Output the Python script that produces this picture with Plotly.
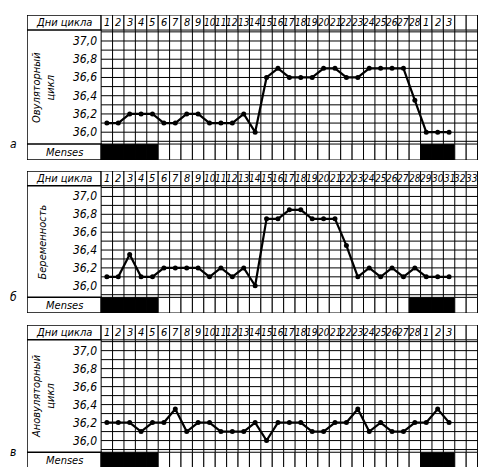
import plotly.graph_objects as go

# --- data -------------------------------------------------------------------
HEADER_A = [str(d) for d in range(1, 29)] + ["1", "2", "3", "", "", ""]
HEADER_B = [str(d) for d in range(1, 35)]
HEADER_C = HEADER_A

TEMP_A = [36.1, 36.1, 36.2, 36.2, 36.2, 36.1, 36.1, 36.2, 36.2, 36.1, 36.1, 36.1, 36.2, 36.0,
          36.6, 36.7, 36.6, 36.6, 36.6, 36.7, 36.7, 36.6, 36.6, 36.7, 36.7, 36.7, 36.7, 36.35,
          36.0, 36.0, 36.0]
TEMP_B = [36.1, 36.1, 36.35, 36.1, 36.1, 36.2, 36.2, 36.2, 36.2, 36.1, 36.2, 36.1, 36.2, 36.0,
          36.75, 36.75, 36.85, 36.85, 36.75, 36.75, 36.75, 36.45, 36.1, 36.2, 36.1, 36.2, 36.1,
          36.2, 36.1, 36.1, 36.1]
TEMP_C = [36.2, 36.2, 36.2, 36.1, 36.2, 36.2, 36.35, 36.1, 36.2, 36.2, 36.1, 36.1, 36.1, 36.2,
          36.0, 36.2, 36.2, 36.2, 36.1, 36.1, 36.2, 36.2, 36.35, 36.1, 36.2, 36.1, 36.1, 36.2,
          36.2, 36.35, 36.2]

MENSES_A = [1, 2, 3, 4, 5, 29, 30, 31]
MENSES_B = [1, 2, 3, 4, 5, 28, 29, 30, 31]
MENSES_C = [1, 2, 3, 4, 5, 29, 30, 31]

SIDE_LABELS = ["Овуляторный<br>цикл", "Беременность", "Ановуляторный<br>цикл"]
PANEL_LETTERS = ["а", "б", "в"]
TICK_VALUES = [36.0, 36.2, 36.4, 36.6, 36.8, 37.0]
TICK_TEXT = ["36,0", "36,2", "36,4", "36,6", "36,8", "37,0"]

# --- layout helpers ---------------------------------------------------------
W, H = 486, 467
NCOL = 34
X0 = -6.0            # left edge of label column
T_LO, T_HI = 35.87, 37.12
HEAD_TOP = 37.285
MEN_BOT = 35.695
PANELS_PX = [(7, 152), (163, 305), (317, 460)]   # top/bottom in pixels
FONT = "DejaVu Sans Condensed"

panels = [
    (HEADER_A, TEMP_A, MENSES_A),
    (HEADER_B, TEMP_B, MENSES_B),
    (HEADER_C, TEMP_C, MENSES_C),
]

fig = go.Figure()
shapes, annots = [], []
line = dict(color="black", width=1)

for i, (header, temps, menses) in enumerate(panels):
    n = "" if i == 0 else str(i + 1)
    xa, ya = "x" + n, "y" + n
    top, bot = PANELS_PX[i]
    fig.layout["xaxis" + n] = dict(range=[X0, NCOL + 0.5], visible=False, domain=[0, 1],
                                   anchor=ya, fixedrange=True)
    fig.layout["yaxis" + n] = dict(range=[MEN_BOT, HEAD_TOP], visible=False,
                                   domain=[1 - bot / H, 1 - top / H], anchor=xa, fixedrange=True)

    days = list(range(1, len(temps) + 1))
    fig.add_trace(go.Scatter(x=days, y=temps, mode="lines+markers", xaxis=xa, yaxis=ya,
                             line=dict(color="black", width=2.2),
                             marker=dict(color="black", size=5), showlegend=False,
                             hoverinfo="skip"))

    def rect(x0, x1, y0, y1, fill="white", w=1):
        shapes.append(dict(type="rect", xref=xa, yref=ya, x0=x0, x1=x1, y0=y0, y1=y1,
                           line=dict(color="black", width=w), fillcolor=fill, layer="below"))

    # outer frame + label column
    rect(X0, NCOL + 0.5, MEN_BOT, HEAD_TOP, w=1.5)
    # grid
    for k in range(NCOL + 1):
        shapes.append(dict(type="line", xref=xa, yref=ya, x0=k + 0.5, x1=k + 0.5,
                           y0=T_LO, y1=T_HI, line=line, layer="below"))
    t = 35.9
    while t < T_HI:
        shapes.append(dict(type="line", xref=xa, yref=ya, x0=0.5, x1=NCOL + 0.5,
                           y0=t, y1=t, line=line, layer="below"))
        t = round(t + 0.1, 2)
    # header row
    rect(X0, 0.5, T_HI, HEAD_TOP, w=1.5)
    annots.append(dict(xref=xa, yref=ya, x=(X0 + 0.5) / 2, y=(T_HI + HEAD_TOP) / 2,
                       text="<i>Дни цикла</i>", showarrow=False,
                       font=dict(family=FONT, size=11, color="black")))
    for k, lab in enumerate(header, start=1):
        rect(k - 0.5, k + 0.5, T_HI, HEAD_TOP)
        if lab:
            annots.append(dict(xref=xa, yref=ya, x=k, y=(T_HI + HEAD_TOP) / 2,
                               text="<i>" + lab + "</i>", showarrow=False,
                               font=dict(family=FONT, size=10 if len(lab) > 1 else 11,
                                         color="black")))
    # menses row
    rect(X0, 0.5, MEN_BOT, T_LO, w=1.5)
    annots.append(dict(xref=xa, yref=ya, x=(X0 + 0.5) / 2, y=(MEN_BOT + T_LO) / 2,
                       text="<i>Menses</i>", showarrow=False,
                       font=dict(family=FONT, size=11, color="black")))
    for k in range(1, NCOL + 1):
        rect(k - 0.5, k + 0.5, MEN_BOT, T_LO, fill="black" if k in menses else "white")
    # tick labels
    for v, s in zip(TICK_VALUES, TICK_TEXT):
        annots.append(dict(xref=xa, yref=ya, x=0.3, y=v, xanchor="right",
                           text="<i>" + s + "</i>", showarrow=False,
                           font=dict(family=FONT, size=12, color="black")))
    # side label
    annots.append(dict(xref=xa, yref=ya, x=-4.6, y=(T_LO + T_HI) / 2, textangle=-90,
                       text="<i>" + SIDE_LABELS[i] + "</i>", showarrow=False,
                       font=dict(family=FONT, size=11, color="black")))
    annots.append(dict(xref="paper", yref=ya, x=-0.03, y=T_LO, xanchor="center",
                       text="<i>" + PANEL_LETTERS[i] + "</i>", showarrow=False,
                       font=dict(family=FONT, size=12, color="black")))

fig.update_layout(width=W, height=H, margin=dict(l=19, r=5, t=0, b=0),
                  paper_bgcolor="white", plot_bgcolor="white",
                  shapes=shapes, annotations=annots)
fig.write_html("out.html")
